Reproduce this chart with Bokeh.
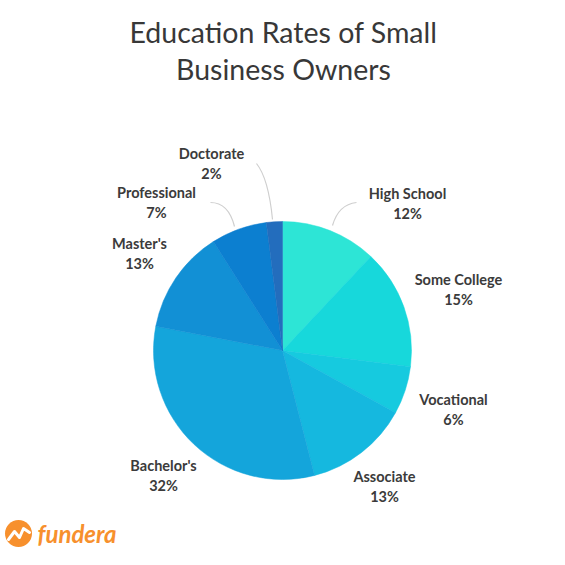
import math
from bokeh.plotting import figure
from bokeh.models import Range1d, ColumnDataSource
from bokeh.core.properties import value
from bokeh.embed import file_html
from bokeh.resources import INLINE

# ---- data ----
categories = ["High School", "Some College", "Vocational", "Associate",
              "Bachelor's", "Master's", "Professional", "Doctorate"]
percents = [12, 15, 6, 13, 32, 13, 7, 2]
colors = ["#2de5d6", "#17d8db", "#16cadf", "#15b8df", "#14a5db",
          "#1290d5", "#0c7fd0", "#236dbd"]
title_lines = ["Education Rates of Small", "Business Owners"]

# ---- layout (screen pixel coords, y downward) ----
W = H = 549
CX, CY, R = 282, 350, 129
label_pos = {  # centre of name line
    "High School": (407, 193), "Some College": (458, 279),
    "Vocational": (453, 399), "Associate": (384, 476),
    "Bachelor's": (163, 465), "Master's": (139, 243),
    "Professional": (156, 192), "Doctorate": (211, 153),
}
leaders = {  # (x0,y0, cx,cy, x1,y1) quadratic curves
    "High School": (332, 225, 338, 204, 356, 202),
    "Professional": (210, 202, 228, 202, 234, 226),
    "Doctorate": (256, 163, 268, 178, 272, 219),
}
LOGO_Y = 533

def Y(sy):
    return 565 - sy

p = figure(width=W, height=H, output_backend="svg", toolbar_location=None,
           x_range=Range1d(0, W), y_range=Range1d(565 - H, 565),
           min_border=0, outline_line_color=None)
p.axis.visible = False
p.grid.visible = False
p.background_fill_color = "white"
p.border_fill_color = "white"

# wedges, clockwise from 12 o'clock
starts, ends = [], []
cum = 0
for v in percents:
    starts.append(math.pi / 2 - 2 * math.pi * cum / 100)
    cum += v
    ends.append(math.pi / 2 - 2 * math.pi * cum / 100)
src = ColumnDataSource(dict(start=starts, end=ends, color=colors,
                            cat=categories, pct=percents))
p.wedge(x=CX, y=Y(CY), radius=R, start_angle="start", end_angle="end",
        direction="clock", fill_color="color", line_color="color",
        line_width=0.5, source=src)

# leader lines
for k, (x0, y0, cx, cy, x1, y1) in leaders.items():
    p.quadratic(x0=x0, y0=Y(y0), x1=x1, y1=Y(y1), cx=cx, cy=Y(cy),
                line_color="#cfcfcf", line_width=1.2)

# labels
lx = [label_pos[c][0] for c in categories]
ly = [Y(label_pos[c][1]) for c in categories]
ly2 = [Y(label_pos[c][1] + 20) for c in categories]
p.text(x=lx, y=ly, text=categories, text_font=value("Lato"),
       text_font_style="bold", text_font_size="14.5px", text_color="#3b3b3b",
       text_align="center", text_baseline="middle")
p.text(x=lx, y=ly2, text=[f"{v}%" for v in percents], text_font=value("Lato"),
       text_font_style="bold", text_font_size="14.5px", text_color="#3b3b3b",
       text_align="center", text_baseline="middle")

# title
p.text(x=[283, 283], y=[Y(31), Y(68)], text=title_lines,
       text_font=value("Lato"), text_font_size="28.5px", text_color="#383838",
       text_align="center", text_baseline="middle")

# logo
p.scatter(x=[18], y=[Y(LOGO_Y)], size=27, marker="circle",
          fill_color="#f7902d", line_color=None)
p.line(x=[8, 14, 19, 23, 29],
       y=[Y(LOGO_Y + 6), Y(LOGO_Y - 2), Y(LOGO_Y + 4), Y(LOGO_Y - 5), Y(LOGO_Y - 1)],
       line_color="white", line_width=3, line_join="round", line_cap="round")
p.text(x=[37], y=[Y(LOGO_Y)], text=["fundera"], text_font=value("Lato"),
       text_font_style="bold italic", text_font_size="24px",
       text_color="#f7902d", text_align="left", text_baseline="middle")

open("out.html", "w").write(file_html(p, INLINE))
